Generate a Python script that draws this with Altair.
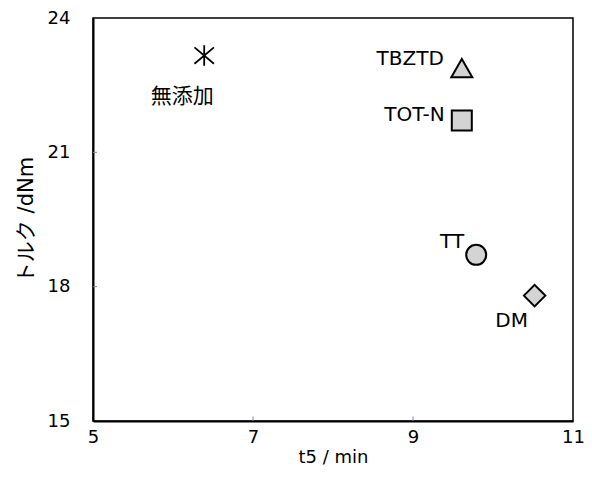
import altair as alt
import pandas as pd

# data
names = ["TBZTD", "TOT-N", "TT", "DM"]
t5 = [9.61, 9.61, 9.79, 10.52]
torque = [22.88, 21.71, 18.71, 17.80]
shapes = ["triangle-up", "square", "circle", "diamond"]
sizes = [440, 400, 400, 460]

base_name = "無添加"
base_t5 = 6.39
base_torque = 23.16

x_ticks = [5, 7, 9, 11]
y_ticks = [15, 18, 21, 24]

FONT = "DejaVu Sans, Noto Sans CJK JP"
JFONT = "Noto Sans CJK JP"

df = pd.DataFrame({"name": names, "t5": t5, "torque": torque,
                   "shape": shapes, "size": sizes})
df_base = pd.DataFrame({"name": [base_name], "t5": [base_t5], "torque": [base_torque]})

xs = alt.Scale(domain=[5, 11], nice=False, zero=False)
ys = alt.Scale(domain=[15, 24], nice=False, zero=False)

X = alt.X("t5:Q", scale=xs, title="t5 / min",
          axis=alt.Axis(values=x_ticks, format="d", ticks=False, grid=False, labelPadding=7,
                        labelFlush=False,
                        titlePadding=2, labelFontSize=18, titleFontSize=18,
                        labelFont=FONT, titleFont=FONT, labelColor="black",
                        titleColor="black", titleFontWeight="normal",
                        domainColor="black", domainWidth=2))
Y = alt.Y("torque:Q", scale=ys, title="トルク /dNm",
          axis=alt.Axis(values=y_ticks, format="d", ticks=False, grid=False, labelPadding=23,
                        labelFlush=False,
                        titlePadding=11, labelFontSize=18, titleFontSize=21,
                        labelFont=FONT, titleFont=FONT, labelColor="black",
                        titleColor="black", titleFontWeight="normal",
                        domainColor="black", domainWidth=2))

points = alt.Chart(df).mark_point(filled=True, fill="#d4d4d4", stroke="black",
                                  strokeWidth=2, opacity=1).encode(
    x=X, y=Y,
    shape=alt.Shape("shape:N", scale=None, legend=None),
    size=alt.Size("size:Q", scale=None, legend=None),
)

asterisk_path = "M0,-1L0,1M-0.95,-0.8L0.95,0.8M-0.95,0.8L0.95,-0.8"
star = alt.Chart(df_base).mark_point(shape=asterisk_path, size=420, stroke="black",
                                     strokeWidth=1.8, filled=False, opacity=1).encode(
    x=alt.X("t5:Q", scale=xs), y=alt.Y("torque:Q", scale=ys))

# labels
lab_dx = {"TBZTD": -18, "TOT-N": -17, "TT": -12}
lab_dy = {"TBZTD": -9, "TOT-N": -6, "TT": -13}
text_layers = []
for n in ["TBZTD", "TOT-N", "TT"]:
    text_layers.append(
        alt.Chart(df[df["name"] == n]).mark_text(
            align="right", baseline="middle", fontSize=20, font=FONT, color="black",
            dx=lab_dx[n], dy=lab_dy[n]).encode(
            x=alt.X("t5:Q", scale=xs), y=alt.Y("torque:Q", scale=ys), text="name:N"))
text_layers.append(
    alt.Chart(df[df["name"] == "DM"]).mark_text(
        align="center", baseline="middle", fontSize=20, font=FONT, color="black",
        dx=-23, dy=25).encode(
        x=alt.X("t5:Q", scale=xs), y=alt.Y("torque:Q", scale=ys), text="name:N"))
text_layers.append(
    alt.Chart(df_base).mark_text(
        align="center", baseline="middle", fontSize=21, font=JFONT, color="black",
        dx=-22, dy=41).encode(
        x=alt.X("t5:Q", scale=xs), y=alt.Y("torque:Q", scale=ys), text="name:N"))

# inward tick marks
yt = pd.DataFrame({"v": [18, 21], "a": [5, 5], "b": [5.05, 5.05]})
xt = pd.DataFrame({"v": [7, 9], "a": [15, 15], "b": [15.1, 15.1]})
ytick = alt.Chart(yt).mark_rule(color="#888", strokeWidth=1).encode(
    y=alt.Y("v:Q", scale=ys), x=alt.X("a:Q", scale=xs), x2="b:Q")
xtick = alt.Chart(xt).mark_rule(color="#888", strokeWidth=1).encode(
    x=alt.X("v:Q", scale=xs), y=alt.Y("a:Q", scale=ys), y2="b:Q")

chart = alt.layer(points, ytick, xtick, star, *text_layers).properties(
    width=480, height=403,
    background="white",
    autosize=alt.AutoSizeParams(type="none"),
    padding={"left": 85, "top": 10, "right": 11, "bottom": 60},
).configure_view(stroke="black", strokeWidth=1.5)

chart.save("out.html", embed_options={"renderer": "svg", "actions": False})
